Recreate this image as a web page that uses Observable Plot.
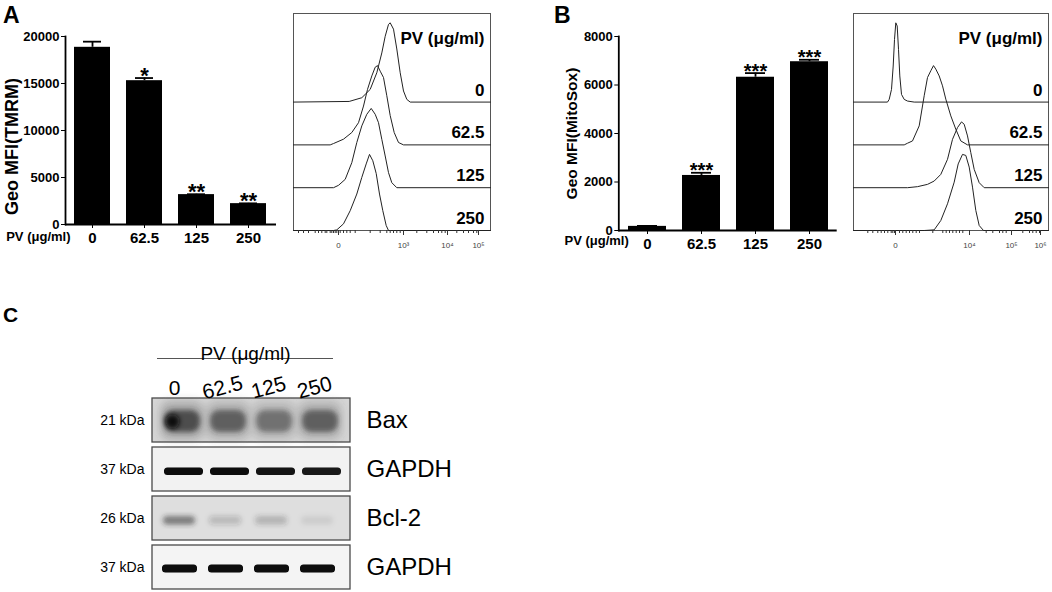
<!DOCTYPE html>
<html>
<head>
<meta charset="utf-8">
<script src="https://cdn.jsdelivr.net/npm/d3@7"></script>
<script src="https://cdn.jsdelivr.net/npm/@observablehq/plot@0.6"></script>
<style>
  body { margin: 0; background: #fff; }
  #root { position: relative; width: 1052px; height: 592px; background: #fff; overflow: hidden; font-family: 'Liberation Sans', Arial, sans-serif; }
  .lbl { position: absolute; font-weight: bold; line-height: 1; }
  .bar line { stroke-width: 1.8px; }
  #hdrline { position: absolute; left: 157px; top: 358px; width: 176px; height: 0; border-top: 1px solid #555; }
</style>
</head>
<body>
<div id="root">
  <div class="lbl" style="left:3px;top:4px;font-size:23px">A</div>
  <div class="lbl" style="left:554px;top:4px;font-size:23px">B</div>
  <div class="lbl" style="left:3px;top:304px;font-size:21px">C</div>
  <div id="hdrline"></div>
</div>
<script>
// ---------- data ----------
const doses = ["0", "62.5", "125", "250"];

const tmrmMean = [18850, 15300, 3180, 2220];
const tmrmSem  = [600, 280, 40, 30];
const tmrmSig  = ["", "*", "**", "**"];
const tmrmTicks = [0, 5000, 10000, 15000, 20000];

const mitoMean = [170, 2270, 6320, 6960];
const mitoSem  = [20, 110, 170, 80];
const mitoSig  = ["", "***", "***", "***"];
const mitoTicks = [0, 2000, 4000, 6000, 8000];

// flow histograms: [display channel, % of mode]
const histA0   = [[0,0],[55.7,0.8],[68.3,5.5],[76.7,16],[83.3,37],[88.3,62],[91.7,83],[95,98],[96.7,100],[100,92],[103.3,67],[106.7,37],[110,14],[113.3,3.4],[116.7,0],[197,0]];
const histA62  = [[0,0],[36.7,0],[40,1.7],[50,7.2],[58.3,15.6],[65,28],[70,49],[74,70],[78.3,87],[81.7,98],[84,100],[86.7,93],[90,85],[93.3,62],[96.7,37],[100.7,15.6],[105,3],[110,0],[197,0]];
const histA125 = [[0,0],[40,0],[45,3],[51.7,10.5],[58.3,31.6],[63.3,57],[68.3,78],[73.3,92.6],[77.7,100],[81.7,92.6],[85,82],[88.3,61],[91.7,40],[95,19],[98.3,6.3],[103.3,0],[197,0]];
const histA250 = [[0,0],[40,0],[43.3,0.8],[50,8.4],[56.7,25],[63.3,46],[68.3,67],[72.7,84],[76,96],[79.3,88],[82.7,72],[86,46],[89.3,25],[92.7,6.3],[95,0],[197,0]];

const histB0   = [[0,0],[34,0],[35.7,3.4],[38,16],[39.7,45.5],[41,79],[42.3,100],[43.7,96],[45,66.5],[46.3,33],[48,9.7],[50.7,3.4],[54,1.3],[60.7,0],[195,0]];
const histB62  = [[0,0],[50.7,0],[54,2.1],[59,5],[65.7,24],[70.7,62],[74,85],[77.3,93.5],[80,100],[82.3,95.6],[85.7,87],[89,74.5],[92.3,57.7],[97.3,36.6],[102.3,19.8],[107.3,5],[114,0],[195,0]];
const histB125 = [[0,0],[54,0],[64,1.3],[74,4.2],[80.7,8.4],[87.3,16.8],[94,35.8],[99,61],[104,75.8],[108,83],[110.7,80],[114,65.3],[117.3,44.2],[120.7,23.1],[125.7,6.3],[130.7,0],[195,0]];
const histB250 = [[0,0],[70.7,0],[80.7,0.8],[87.3,12.6],[94,33.7],[100.7,61],[104.7,84],[109,96],[112.3,94.7],[115.7,80],[119,54.7],[122.3,25.3],[125.7,6.3],[130,0],[195,0]];

const laneGap = 54;  // offset between stacked histograms (% of mode)
const histATicks  = [45, 110, 154, 185];
const histALabels = ["0", "10³", "10⁴", "10⁵"];
const histAMinor  = [5,10,15,21.7,25,28.3,31.7,33.3,36.7,38.3,40,41.7,43.3,46.7,50,53.3,56.7,61.7,76.7,86.7,93.3,96.7,100,103.3,106.7,123.3,133.3,140,145,148.3,151.7,163.3,170,175,180,183.3];
const histBTicks  = [42, 116, 158, 187];
const histBLabels = ["0", "10⁴", "10⁵", "10⁶"];
const histBMinor  = [14.3,19.3,24.3,27.7,31,34.3,37.7,39.3,41,46,49.3,52.7,56,59.3,62.7,66,79.3,89.3,92.7,96,99.3,102.7,106,109.3,132.7,139.3,146,149.3,152.7,169.3,176,179.3,182.7,186];

// western blot
const blotRows  = ["Bax", "GAPDH-a", "Bcl-2", "GAPDH-b"];
const blotNames = ["Bax", "GAPDH", "Bcl-2", "GAPDH"];
const blotKDa   = ["21 kDa", "37 kDa", "26 kDa", "37 kDa"];
const baxLevel    = [0.75, 0.62, 0.5, 0.62];
const gapdhALevel = [1, 1, 0.97, 0.95];
const bcl2Level   = [0.55, 0.2, 0.25, 0.08];
const gapdhBLevel = [1, 1, 1, 1];

// ---------- helpers ----------
const font = "'Liberation Sans', Arial, sans-serif";
const root = document.getElementById("root");
function place(svg, left, top, cls) {
  svg.style.position = "absolute";
  svg.style.left = left + "px";
  svg.style.top = top + "px";
  svg.style.maxWidth = "none";
  if (cls) svg.classList.add(cls);
  root.appendChild(svg);
  return svg;
}

function barChart({mean, sem, sig, ticks, title, width, marginLeft, marginRight, marginBottom, titleDx, titleDy, titleSize, pvDx, pvDy, tickPad, starSize}) {
  const rows = doses.map((d, i) => ({dose: d, mean: mean[i], sem: sem[i], sig: sig[i]}));
  return Plot.plot({
    width, height: 260, marginLeft, marginRight, marginTop: 36, marginBottom,
    style: {fontFamily: font, fontWeight: "bold", fontSize: "13px", background: "transparent", overflow: "visible"},
    x: {domain: doses, paddingInner: 0.3, paddingOuter: 0.15},
    y: {domain: [0, ticks[ticks.length - 1]], ticks, tickSize: 4, tickPadding: 2, line: true, label: null, tickFormat: d => String(d)},
    marks: [
      Plot.barY(rows, {x: "dose", y: "mean", fill: "black"}),
      Plot.ruleX(rows, {x: "dose", y1: "mean", y2: d => d.mean + d.sem, stroke: "black", strokeWidth: 2}),
      Plot.tickY(rows, {x: "dose", y: d => d.mean + d.sem, stroke: "black", strokeWidth: 2, inset: 9}),
      Plot.text(rows, {x: "dose", y: d => d.mean + d.sem, text: "sig", dy: -2, fontSize: starSize}),
      Plot.ruleY([0], {stroke: "black", strokeWidth: 2}),
      Plot.axisX({tickSize: 4, tickPadding: tickPad, fontSize: 15, label: null}),
      Plot.text([title], {text: d => d, frameAnchor: "left", textAnchor: "middle", rotate: -90, dx: titleDx, dy: titleDy, fontSize: titleSize}),
      Plot.text(["PV (μg/ml)"], {text: d => d, frameAnchor: "bottom-left", textAnchor: "end", dx: pvDx, dy: pvDy, fontSize: 13})
    ]
  });
}

function histPlot({curves, xMax, width, marginRight, ticks, labels, minor}) {
  const data = curves.flatMap((pts, i) => pts.map(([x, v]) => ({lane: doses[i], x, y: v + (3 - i) * laneGap})));
  const labelOf = new Map(ticks.map((t, i) => [t, labels[i]]));
  return Plot.plot({
    width, height: 260, marginLeft: 3, marginRight, marginTop: 13, marginBottom: 30,
    style: {fontFamily: font, background: "transparent", overflow: "visible"},
    x: {domain: [0, xMax]},
    y: {domain: [0, 3 * laneGap + 111.75], axis: null},
    marks: [
      Plot.frame({stroke: "#555"}),
      Plot.line(data, {x: "x", y: "y", z: "lane", stroke: "#222", strokeWidth: 1}),
      Plot.axisX(minor, {tickSize: 3, tickFormat: () => "", stroke: "#333", label: null}),
      Plot.axisX(ticks, {tickSize: 5, tickPadding: 7, tickFormat: d => labelOf.get(d), fontSize: 8, fill: "#444", stroke: "#333", label: null}),
      Plot.text(["PV (μg/ml)"], {text: d => d, frameAnchor: "top-right", textAnchor: "end", dx: -6, dy: 18, fontSize: 17, fontWeight: "bold"}),
      Plot.text(doses, {text: d => d, y: (d, i) => (3 - i) * laneGap, frameAnchor: "right", textAnchor: "end", dx: -6, dy: -12, fontSize: 17, fontWeight: "bold"})
    ]
  });
}

// ---------- panel A ----------
place(barChart({mean: tmrmMean, sem: tmrmSem, sig: tmrmSig, ticks: tmrmTicks, title: "Geo MFI(TMRM)",
  width: 290, marginLeft: 65, marginRight: 14, marginBottom: 36, titleDx: -53, titleDy: 16, titleSize: 18,
  pvDx: 5, pvDy: 16, tickPad: 4, starSize: 22}), 0, 0, "bar");

place(histPlot({curves: [histA0, histA62, histA125, histA250], xMax: 197, width: 210, marginRight: 10,
  ticks: histATicks, labels: histALabels, minor: histAMinor}), 290, 0);

// ---------- panel B ----------
place(barChart({mean: mitoMean, sem: mitoSem, sig: mitoSig, ticks: mitoTicks, title: "Geo MFI(MitoSox)",
  width: 345, marginLeft: 118.3, marginRight: 8.3, marginBottom: 30, titleDx: -46.6, titleDy: 0, titleSize: 15.5,
  pvDx: 10, pvDy: 14, tickPad: 3.5, starSize: 20}), 500, 0, "bar");

place(histPlot({curves: [histB0, histB62, histB125, histB250], xMax: 195, width: 202, marginRight: 4,
  ticks: histBTicks, labels: histBLabels, minor: histBMinor}), 850, 0);

// ---------- panel C (western blot) ----------
const bandRows = (row, levels) => doses.map((d, i) => ({lane: d, row, v: levels[i]}));
const bax = bandRows("Bax", baxLevel);
const gapA = bandRows("GAPDH-a", gapdhALevel);
const bcl2 = bandRows("Bcl-2", bcl2Level);
const gapB = bandRows("GAPDH-b", gapdhBLevel);
const rowBg = {"Bax": "#d6d6d6", "GAPDH-a": "#f2f2f2", "Bcl-2": "#dedede", "GAPDH-b": "#f4f4f4"};

const blot = Plot.plot({
  width: 480, height: 302, marginLeft: 152, marginRight: 130, marginTop: 108.3, marginBottom: 2.5,
  style: {fontFamily: font, background: "transparent", overflow: "visible"},
  x: {type: "band", domain: doses, paddingInner: 0, paddingOuter: 0.15, axis: null},
  y: {type: "band", domain: blotRows, paddingInner: 0.1, paddingOuter: 0, axis: null},
  marks: [
    Plot.cell(blotRows, {y: d => d, fill: d => rowBg[d], stroke: "#4a4a4a", strokeWidth: 1.3}),
    Plot.cell(bax, {x: "lane", y: "row", fill: "#444", fillOpacity: d => d.v * 0.4, insetTop: 3, insetBottom: 2, insetLeft: 1, insetRight: 1, rx: 10, ariaDescription: "blur-l"}),
    Plot.cell(bax, {x: "lane", y: "row", fill: "#2c2c2c", fillOpacity: d => d.v, insetTop: 12, insetBottom: 10, insetLeft: 5, insetRight: 5, rx: 9, ariaDescription: "blur-m"}),
    Plot.dot(bax.slice(0, 1), {x: "lane", y: "row", dx: -10, dy: 1, r: 7, fill: "#0a0a0a", ariaDescription: "blur-m"}),
    Plot.cell(gapA, {x: "lane", y: "row", fill: "#070707", fillOpacity: d => d.v, insetTop: 20.5, insetBottom: 16, insetLeft: 5, insetRight: 2, rx: 3.5, ariaDescription: "blur-s"}),
    Plot.cell(bcl2, {x: "lane", y: "row", fill: "#2a2a2a", fillOpacity: d => d.v, insetTop: 20, insetBottom: 15.5, insetLeft: 4, insetRight: 10, rx: 4, ariaDescription: "blur-m"}),
    Plot.cell(gapB, {x: "lane", y: "row", fill: "#070707", fillOpacity: d => d.v, insetTop: 19.5, insetBottom: 16.5, insetLeft: 3, insetRight: 8, rx: 3.5, ariaDescription: "blur-s"}),
    Plot.text(blotRows, {y: d => d, text: (d, i) => blotKDa[i], frameAnchor: "left", textAnchor: "end", dx: -8, fontSize: 14}),
    Plot.text(blotRows, {y: d => d, text: (d, i) => blotNames[i], frameAnchor: "right", textAnchor: "start", dx: 16, fontSize: 24}),
    Plot.text(doses, {x: d => d, text: d => d, frameAnchor: "top", textAnchor: "middle", dy: -19, dx: -8, rotate: (d, i) => (i === 0 ? 0 : -15), fontSize: 21}),
    Plot.text(["PV (μg/ml)"], {text: d => d, frameAnchor: "top", textAnchor: "middle", dy: -52, dx: -6, fontSize: 19})
  ]
});
const defs = d3.select(blot).insert("defs", ":first-child");
[["blur-l", 4], ["blur-m", 2.6], ["blur-s", 0.7]].forEach(([id, s]) => {
  defs.append("filter").attr("id", id).attr("x", "-50%").attr("y", "-50%").attr("width", "200%").attr("height", "200%")
    .append("feGaussianBlur").attr("stdDeviation", s);
});
d3.select(blot).selectAll("[aria-description]").each(function() {
  const id = this.getAttribute("aria-description");
  if (id && id.startsWith("blur")) this.setAttribute("filter", `url(#${id})`);
});
place(blot, 0, 290);
</script>
</body>
</html>
